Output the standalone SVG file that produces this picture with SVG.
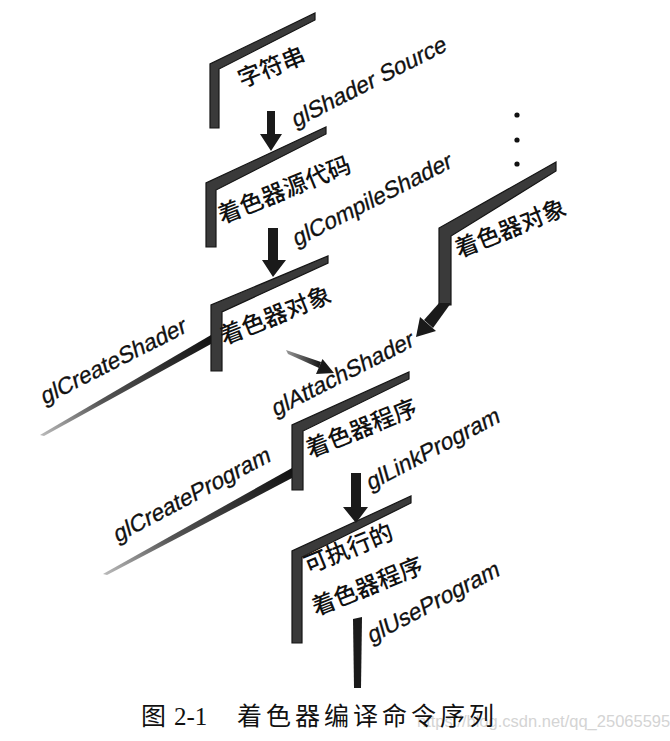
<svg xmlns="http://www.w3.org/2000/svg" width="670" height="741" viewBox="0 0 670 741">
<defs>
<style>
.bar{fill:#3a3a3a;stroke:#151515;stroke-width:1.2}
.arr{fill:#1a1a1a}
.cn{font-family:"Noto Sans CJK SC","Noto Sans",sans-serif;font-size:23.5px;font-weight:500;fill:#111}
.gl{font-family:"Liberation Sans",Arial,sans-serif;font-size:23px;fill:#111;stroke:#111;stroke-width:0.3}
.cap{font-family:"Liberation Serif","Noto Sans CJK SC",serif;font-size:25px;fill:#111}
.wm{font-family:"Liberation Sans",Arial,sans-serif;font-size:16.5px;fill:#d4d4d4}
</style>
<linearGradient id="tapL" x1="0" y1="1" x2="1" y2="0">
<stop offset="0" stop-color="#bbbbbb"/>
<stop offset="0.35" stop-color="#555555"/>
<stop offset="1" stop-color="#111111"/>
</linearGradient>
<linearGradient id="tapA" x1="0" y1="0" x2="1" y2="0">
<stop offset="0" stop-color="#999999"/>
<stop offset="1" stop-color="#111111"/>
</linearGradient>
</defs>
<rect width="670" height="741" fill="#ffffff"/>

<g id="node-string">
<polygon class="bar" points="210,128 210,64 315,13 315,20 219,69 219,128"/>
<text class="cn" transform="translate(242,88) rotate(-22)">字符串</text>
</g>

<g id="node-source">
<polygon class="bar" points="206,247 206,183 326,127 326,134 216,190 216,247"/>
<text class="cn" transform="translate(222,224) rotate(-22)">着色器源代码</text>
</g>

<g id="node-shader-object">
<polygon class="bar" points="211,371 211,305 328,256 328,263 222,312 222,371"/>
<text class="cn" transform="translate(224,345) rotate(-22)">着色器对象</text>
</g>

<g id="node-shader-object-2">
<polygon class="bar" points="439,305 439,228 556,162 556,171 451,236 451,305"/>
<text class="cn" transform="translate(459,258) rotate(-22)">着色器对象</text>
<circle cx="517" cy="115" r="2.6" fill="#111"/>
<circle cx="517" cy="140" r="2.6" fill="#111"/>
<circle cx="517" cy="164" r="2.6" fill="#111"/>
</g>

<g id="node-program">
<polygon class="bar" points="292,490 292,425 409,372 409,379 303,431 303,490"/>
<text class="cn" transform="translate(310,458) rotate(-22)">着色器程序</text>
</g>

<g id="node-executable">
<polygon class="bar" points="292,643 292,551 411,496 411,503 302,557 302,643"/>
<text class="cn" transform="translate(308,574) rotate(-22)">可执行的</text>
<text class="cn" transform="translate(316,616) rotate(-22)">着色器程序</text>
</g>

<g id="connectors">
<!-- glShaderSource -->
<polygon class="arr" points="267,111 275,111 275,134 282,134 271,151 260,134 267,134"/>
<text class="gl" transform="translate(295,128) rotate(-27) skewX(-12)">glShader Source</text>
<!-- glCompileShader -->
<polygon class="arr" points="268,228 278,228 278,260 286,260 273,277 262,260 268,260"/>
<text class="gl" transform="translate(296,247) rotate(-27) skewX(-12)">glCompileShader</text>
<!-- glCreateShader -->
<polygon fill="url(#tapL)" points="40,435 211,335 211,344 44,436"/>
<text class="gl" transform="translate(44,405) rotate(-27) skewX(-12)">glCreateShader</text>
<!-- attach from left object -->
<polygon fill="url(#tapA)" points="286,350 288,354 319,368 321,362"/>
<polygon class="arr" points="334,373 316,374 322.5,359"/>
<!-- attach from right object -->
<polygon class="arr" points="439,303 451,303 433,328 424,320"/>
<polygon class="arr" points="416,337 420,317 436,331"/>
<text class="gl" transform="translate(275,417) rotate(-27) skewX(-12)">glAttachShader</text>
<!-- glCreateProgram -->
<polygon fill="url(#tapL)" points="103,574 292,468 292,478 107,575"/>
<text class="gl" transform="translate(117,543) rotate(-28) skewX(-12)">glCreateProgram</text>
<!-- glLinkProgram -->
<polygon class="arr" points="351,473 361,473 361,507 368,507 356,523 343,507 351,507"/>
<text class="gl" transform="translate(370,491) rotate(-28) skewX(-12)">glLinkProgram</text>
<!-- glUseProgram -->
<polygon class="arr" points="353,619 362,617 361,688 354,688"/>
<text class="gl" transform="translate(371,644) rotate(-28) skewX(-12)">glUseProgram</text>
</g>

<g id="caption">
<text class="wm" x="417" y="727">https://blog.csdn.net/qq_25065595</text>
<text class="cap" x="141" y="725">图</text>
<text class="cap" x="174" y="725">2-1</text>
<text class="cap" x="237" y="725" letter-spacing="4">着色器编译命令序列</text>
</g>
</svg>
